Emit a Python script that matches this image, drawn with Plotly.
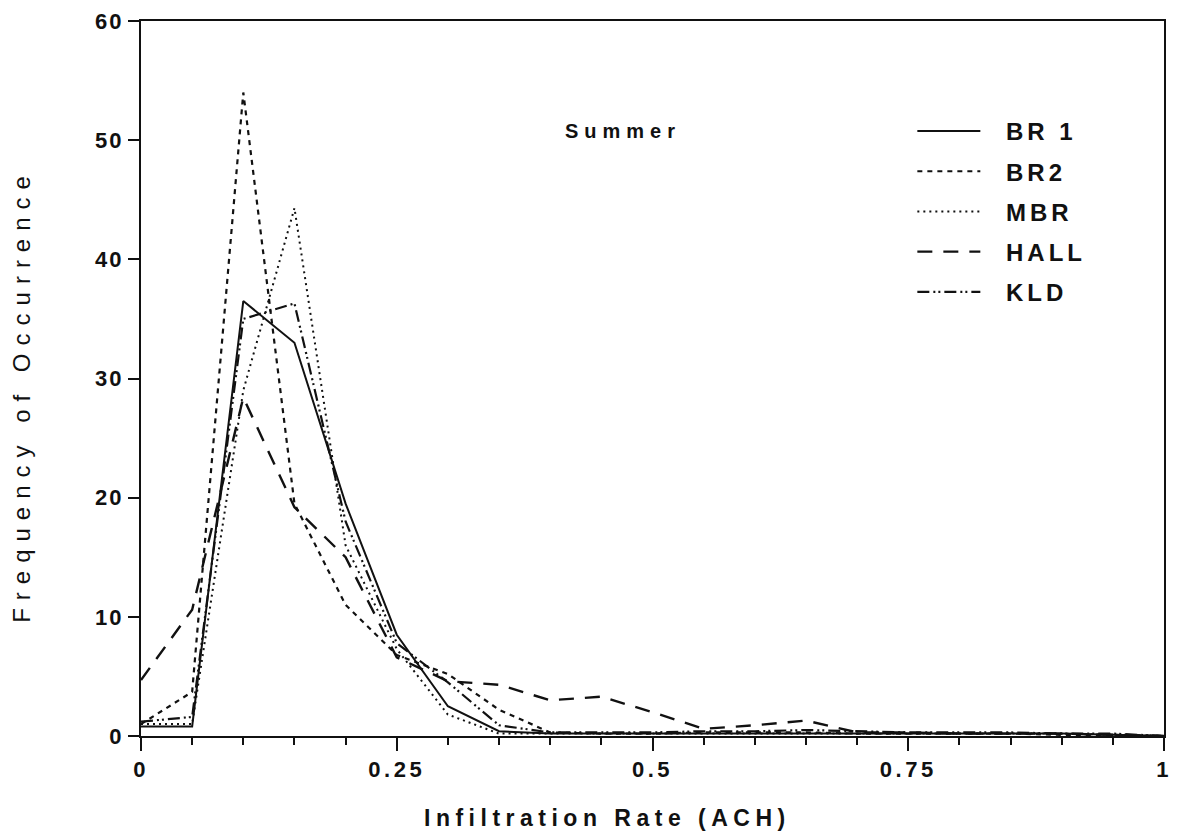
import plotly.graph_objects as go

x_vals = [0.0, 0.05, 0.10, 0.15, 0.20, 0.25, 0.30, 0.35, 0.40, 0.45, 0.50,
          0.55, 0.60, 0.65, 0.70, 0.75, 0.80, 0.85, 0.90, 0.95, 1.00]

br1 = [0.8, 0.8, 36.5, 33.0, 19.5, 8.5, 2.5, 0.4, 0.2, 0.2, 0.2,
       0.2, 0.2, 0.2, 0.2, 0.2, 0.2, 0.2, 0.2, 0.1, 0.0]
br2 = [1.0, 3.7, 54.0, 19.5, 11.0, 6.8, 5.2, 2.2, 0.3, 0.2, 0.2,
       0.3, 0.3, 0.3, 0.2, 0.2, 0.2, 0.2, 0.1, 0.1, 0.0]
mbr = [1.0, 1.0, 29.0, 44.3, 16.0, 7.3, 1.8, 0.2, 0.2, 0.2, 0.2,
       0.2, 0.2, 0.2, 0.2, 0.2, 0.2, 0.2, 0.2, 0.1, 0.0]
hall = [4.7, 10.6, 28.4, 19.2, 15.0, 6.6, 4.6, 4.3, 3.0, 3.3, 2.0,
        0.6, 0.9, 1.3, 0.3, 0.3, 0.2, 0.2, 0.2, 0.1, 0.0]
kld = [1.2, 1.6, 35.0, 36.3, 18.0, 7.8, 4.5, 0.9, 0.3, 0.3, 0.3,
       0.4, 0.4, 0.5, 0.4, 0.3, 0.3, 0.3, 0.2, 0.2, 0.0]

names = ["BR1", "BR2", "MBR", "HALL", "KLD"]
labels = ["BR 1", "BR2", "MBR", "HALL", "KLD"]
series = [br1, br2, mbr, hall, kld]
dashes = ["solid", "5px,5px", "2px,4px", "15px,11px", "12px,4px,2px,3px,2px,4px"]
widths = [2.0, 2.2, 2.0, 2.4, 2.2]

x_ticks = [0, 0.25, 0.5, 0.75, 1.0]
x_ticktext = ["0", "0.25", "0.5", "0.75", "1"]
y_ticks = [0, 10, 20, 30, 40, 50, 60]
y_ticktext = ["0", "10", "20", "30", "40", "50", "60"]

FONT = "Liberation Sans, Arial, sans-serif"
INK = "#111111"


def spaced(text, px):
    return '<span style="letter-spacing:%.1fpx">%s</span>' % (px, text)


def legend_label(text):
    pad = '<span style="letter-spacing:14px">\u00a0</span>'
    return pad + spaced(text, 4)


fig = go.Figure()
for nm, lab, ys, d, w in zip(names, labels, series, dashes, widths):
    fig.add_trace(go.Scatter(
        x=x_vals, y=ys, mode="lines", name=legend_label(lab), legendgroup=nm,
        line=dict(color=INK, width=w, dash=d),
    ))

fig.update_layout(
    width=1181, height=838,
    margin=dict(l=141, r=9, t=20, b=102),
    paper_bgcolor="white", plot_bgcolor="white",
    font=dict(family=FONT, color=INK),
    showlegend=True,
    legend=dict(
        x=0.754, y=0.877, xanchor="left", yanchor="top",
        bgcolor="rgba(0,0,0,0)", borderwidth=0,
        font=dict(family=FONT, size=24, color=INK, weight="bold"),
        itemwidth=63, tracegroupgap=6,
    ),
    annotations=[
        dict(text=spaced("Summer", 6), x=0.471, y=0.846, xref="paper", yref="paper",
             xanchor="center", yanchor="middle", showarrow=False,
             font=dict(family=FONT, size=20, color=INK, weight="bold")),
        dict(text=spaced("Infiltration Rate (ACH)", 5.5), x=0.456, y=-0.1145,
             xref="paper", yref="paper", xanchor="center", yanchor="middle",
             showarrow=False,
             font=dict(family=FONT, size=23, color=INK, weight="bold")),
        dict(text=spaced("Frequency of Occurrence", 8), x=-0.1164, y=0.477,
             xref="paper", yref="paper", xanchor="center", yanchor="middle",
             textangle=-90, showarrow=False,
             font=dict(family=FONT, size=24, color=INK)),
    ],
)

fig.update_xaxes(
    range=[0, 1], tickvals=x_ticks,
    ticktext=[spaced(t, 3.5) for t in x_ticktext],
    ticks="outside", ticklen=13, tickwidth=2, tickcolor=INK,
    minor=dict(dtick=0.05, ticks="outside", ticklen=7, tickwidth=1.5, tickcolor=INK),
    showline=True, linewidth=2, linecolor=INK, mirror=True,
    showgrid=False, zeroline=False,
    tickfont=dict(family=FONT, size=22, color=INK, weight="bold"),
)
fig.update_yaxes(
    range=[0, 60], tickvals=y_ticks,
    ticktext=[spaced(t, 2) for t in y_ticktext],
    ticks="outside", ticklen=11, tickwidth=2, tickcolor=INK,
    showline=True, linewidth=2, linecolor=INK, mirror=True,
    showgrid=False, zeroline=False,
    tickfont=dict(family=FONT, size=22, color=INK, weight="bold"),
)

fig.write_html("out.html")
